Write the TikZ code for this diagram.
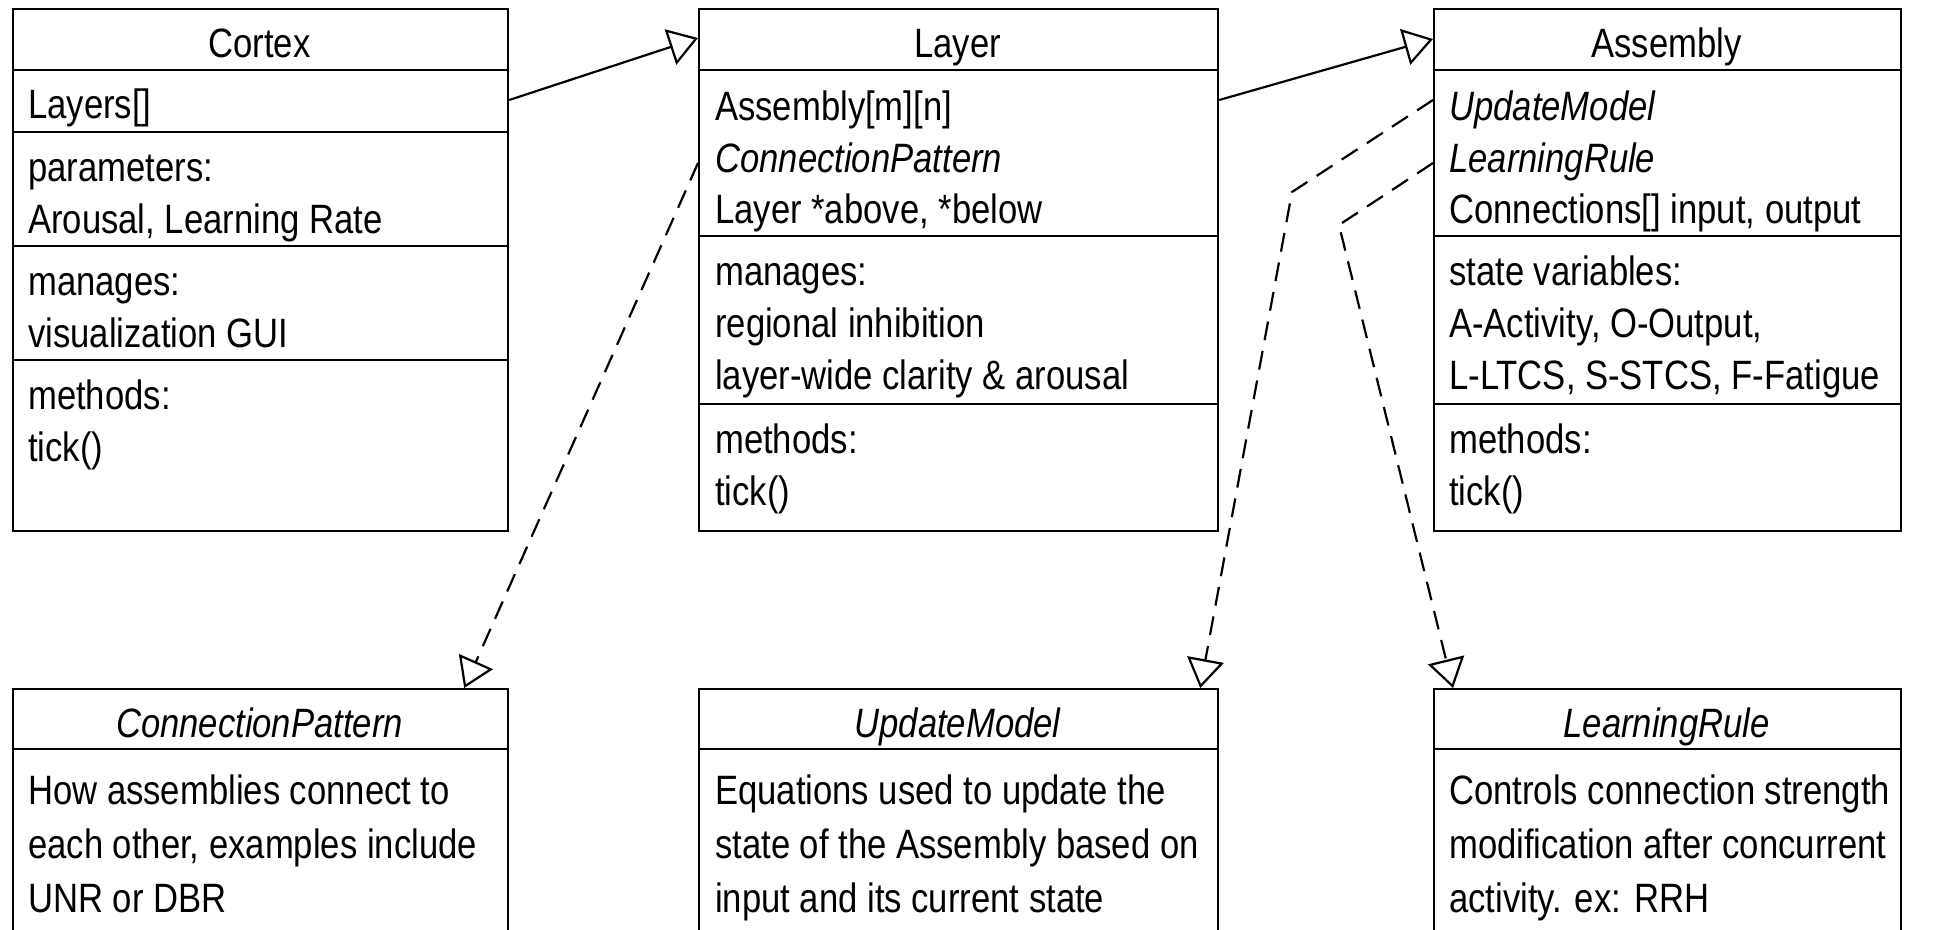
\documentclass[tikz,border=0pt]{standalone}
\usepackage{fontspec}
\setmainfont[FakeStretch=0.845]{Liberation Sans}
\usetikzlibrary{arrows.meta}
\begin{document}
\begin{tikzpicture}[x=1pt,y=-1pt,
  box/.style={draw, line width=2.2pt, rectangle, anchor=north west, inner sep=0pt},
  sep/.style={line width=2.2pt},
  txt/.style={anchor=base west, inner sep=0pt, font=\fontsize{41}{48}\selectfont},
  ttl/.style={anchor=base, inner sep=0pt, font=\fontsize{41}{48}\selectfont},
  gen/.style={line width=2.2pt, -{Triangle[open, length=29pt, width=37pt]}},
  dep/.style={gen, dash pattern=on 19pt off 11pt}]
\useasboundingbox (0,0) rectangle (1956,929);
\clip (0,0) rectangle (1956,929);

% boxes
\node[box, minimum width=495pt, minimum height=522pt] (cortex) at (12,8) {};
\node[box, minimum width=519pt, minimum height=522pt] (layer) at (698,8) {};
\node[box, minimum width=467pt, minimum height=522pt] (assembly) at (1433,8) {};
\node[box, minimum width=495pt, minimum height=400pt] (connpat) at (12,688) {};
\node[box, minimum width=519pt, minimum height=400pt] (update) at (698,688) {};
\node[box, minimum width=467pt, minimum height=400pt] (learn) at (1433,688) {};

% dividers
\draw[sep] (12,70) -- (507,70);
\draw[sep] (12,132) -- (507,132);
\draw[sep] (12,246) -- (507,246);
\draw[sep] (12,360) -- (507,360);
\draw[sep] (698,70) -- (1217,70);
\draw[sep] (698,236) -- (1217,236);
\draw[sep] (698,404) -- (1217,404);
\draw[sep] (1433,70) -- (1900,70);
\draw[sep] (1433,236) -- (1900,236);
\draw[sep] (1433,404) -- (1900,404);
\draw[sep] (12,749) -- (507,749);
\draw[sep] (698,749) -- (1217,749);
\draw[sep] (1433,749) -- (1900,749);

% Cortex
\node[ttl] (cT) at (259.5,57) {Cortex};
\node[txt] (c1) at (28,118) {Layers[]};
\node[txt] (c2) at (28,181) {parameters:};
\node[txt] (c3) at (28,233) {Arousal, Learning Rate};
\node[txt] (c4) at (28,295) {manages:};
\node[txt] (c5) at (28,347) {visualization GUI};
\node[txt] (c6) at (28,409) {methods:};
\node[txt] (c7) at (28,461) {tick()};

% Layer
\node[ttl] (lT) at (957.5,57) {Layer};
\node[txt] (l1) at (715,120) {Assembly[m][n]};
\node[txt] (l2) at (715,172) {\itshape ConnectionPattern};
\node[txt] (l3) at (715,223) {Layer *above, *below};
\node[txt] (l4) at (715,285) {manages:};
\node[txt] (l5) at (715,337) {regional inhibition};
\node[txt] (l6) at (715,389) {layer-wide clarity \& arousal};
\node[txt] (l7) at (715,453) {methods:};
\node[txt] (l8) at (715,505) {tick()};

% Assembly
\node[ttl] (aT) at (1666.5,57) {Assembly};
\node[txt] (a1) at (1449,120) {\itshape UpdateModel};
\node[txt] (a2) at (1449,172) {\itshape LearningRule};
\node[txt] (a3) at (1449,223) {Connections[] input, output};
\node[txt] (a4) at (1449,285) {state variables:};
\node[txt] (a5) at (1449,337) {A-Activity, O-Output,};
\node[txt] (a6) at (1449,389) {L-LTCS, S-STCS, F-Fatigue};
\node[txt] (a7) at (1449,453) {methods:};
\node[txt] (a8) at (1449,505) {tick()};

% ConnectionPattern
\node[ttl] (pT) at (259.5,737) {\itshape ConnectionPattern};
\node[txt] (p1) at (28,804) {How assemblies connect to};
\node[txt] (p2) at (28,858) {each other, examples include};
\node[txt] (p3) at (28,912) {UNR or DBR};

% UpdateModel
\node[ttl] (uT) at (957.5,737) {\itshape UpdateModel};
\node[txt] (u1) at (715,804) {Equations used to update the};
\node[txt] (u2) at (715,858) {state of the Assembly based on};
\node[txt] (u3) at (715,912) {input and its current state};

% LearningRule
\node[ttl] (rT) at (1666.5,737) {\itshape LearningRule};
\node[txt] (r1) at (1449,804) {Controls connection strength};
\node[txt] (r2) at (1449,858) {modification after concurrent};
\node[txt] (r3) at (1449,912) {activity. ex: RRH};

% connectors
\draw[gen] ([yshift=-92pt]cortex.north east) -- ([yshift=-30pt]layer.north west);
\draw[gen] ([yshift=-92pt]layer.north east) -- ([yshift=-31pt]assembly.north west);
\draw[dep] ([yshift=-155pt]layer.north west) -- ([xshift=-45pt]connpat.north east);
\coordinate (b1) at (1292,192);
\coordinate (b2) at (1339,225);
\draw[dep] ([yshift=-92pt]assembly.north west) -- (b1) -- ([xshift=-19pt]update.north east);
\draw[dep] ([yshift=-155pt]assembly.north west) -- (b2) -- ([xshift=20pt]learn.north west);
\end{tikzpicture}
\end{document}
